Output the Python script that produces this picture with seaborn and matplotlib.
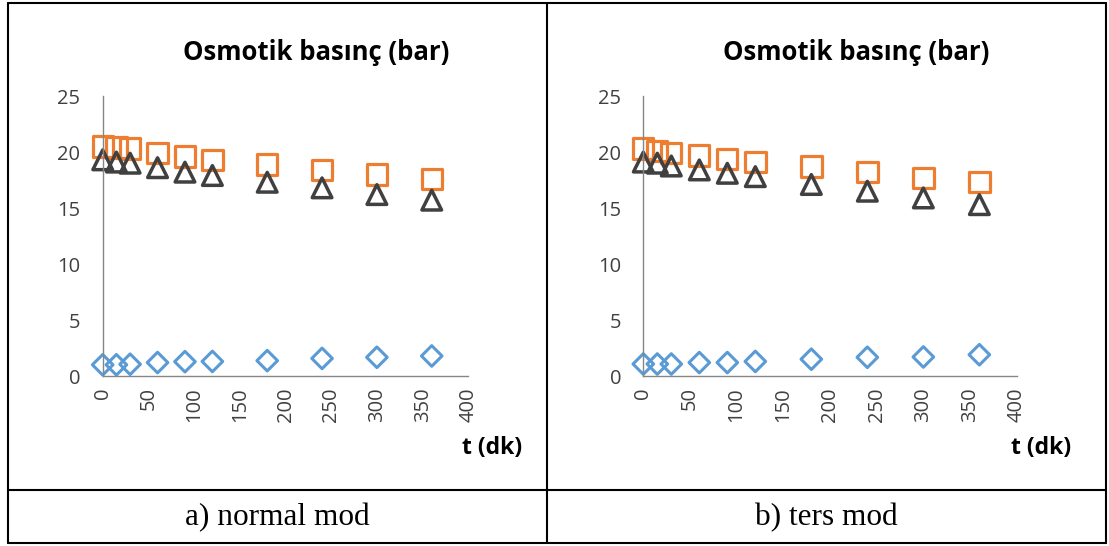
import matplotlib
matplotlib.use("Agg")
import matplotlib.pyplot as plt
import seaborn as sns
from matplotlib.lines import Line2D

# time points (dk)
t = [0, 15, 30, 60, 90, 120, 180, 240, 300, 360]

# a) normal mod
normal_square = [20.5, 20.4, 20.3, 19.9, 19.6, 19.3, 18.9, 18.4, 18.0, 17.6]
normal_triangle = [19.3, 19.1, 19.0, 18.6, 18.2, 17.9, 17.3, 16.8, 16.2, 15.7]
normal_diamond = [1.0, 1.0, 1.05, 1.2, 1.28, 1.3, 1.37, 1.57, 1.67, 1.79]

# b) ters mod
ters_square = [20.3, 20.1, 19.9, 19.7, 19.4, 19.1, 18.7, 18.2, 17.7, 17.3]
ters_triangle = [19.1, 19.0, 18.75, 18.4, 18.1, 17.8, 17.1, 16.5, 15.9, 15.3]
ters_diamond = [1.07, 1.07, 1.07, 1.2, 1.2, 1.3, 1.5, 1.67, 1.7, 1.9]

x_ticks = [0, 50, 100, 150, 200, 250, 300, 350, 400]
y_ticks = [0, 5, 10, 15, 20, 25]
captions = ["a) normal mod", "b) ters mod"]

sns.set_style("white")
plt.rcParams["font.family"] = ["Open Sans", "DejaVu Sans"]

W, H = 1109, 546
fig = plt.figure(figsize=(W / 100, H / 100), dpi=100)


def fx(px):
    return px / W


def fy(py):
    return 1 - py / H


axis_grey = "#868686"
text_grey = "#404040"

panels = [
    (102.7, 468.3, normal_diamond, normal_square, normal_triangle, 277),
    (643.3, 1016.7, ters_diamond, ters_square, ters_triangle, 826),
]

for i, (x0, x1, dia, sq, tri, cap_x) in enumerate(panels):
    ax = fig.add_axes([fx(x0), fy(376), fx(x1 - x0), (376 - 96) / H])
    sns.scatterplot(x=t, y=dia, marker="D", s=110, facecolor="none",
                    edgecolor="#5B9BD5", linewidth=2.2, ax=ax, clip_on=False)
    sns.scatterplot(x=t, y=sq, marker="s", s=215, facecolor="none",
                    edgecolor="#ED7D31", linewidth=2.3, ax=ax, clip_on=False)
    sns.scatterplot(x=t, y=tri, marker="^", s=200, facecolor="none",
                    edgecolor="#404040", linewidth=2.5, ax=ax, clip_on=False)
    ax.set_xlim(0, 400)
    ax.set_ylim(0, 25)
    ax.set_xticks(x_ticks)
    ax.set_yticks(y_ticks)
    ax.set_xticklabels([str(v) for v in x_ticks], rotation=90, ha="center", va="top")
    sns.despine(ax=ax)
    for s in ["left", "bottom"]:
        ax.spines[s].set_color(axis_grey)
        ax.spines[s].set_linewidth(1.0)
    ax.tick_params(axis="both", direction="out", width=1.0,
                   color=axis_grey, labelcolor=text_grey, labelsize=14.5)
    ax.tick_params(axis="x", length=5, pad=3)
    ax.tick_params(axis="y", length=6, pad=10)
    ax.set_xlabel("")
    ax.set_ylabel("")
    # chart title
    fig.text(fx(x0 + 213), fy(52), "Osmotik basınç (bar)", ha="center", va="center",
             fontsize=18.5, fontweight="bold", color="black")
    # axis title
    fig.text(fx(x1 + 54), fy(448), "t (dk)", ha="right", va="center",
             fontsize=16.5, fontweight="bold", color="black")
    # caption row
    fig.text(fx(cap_x), fy(518), captions[i], ha="center", va="center",
             fontsize=22.5, family="Liberation Serif", color="black")

# table borders
lw = 1.5
border = [
    ((8, 1106), (3, 3)),
    ((8, 1106), (543, 543)),
    ((8, 8), (3, 543)),
    ((1106, 1106), (3, 543)),
    ((547, 547), (3, 543)),
    ((8, 1106), (490, 490)),
]
for xs, ys in border:
    fig.add_artist(Line2D([fx(xs[0]), fx(xs[1])], [fy(ys[0]), fy(ys[1])],
                          color="black", linewidth=lw))

fig.savefig("out.png", dpi=100)
